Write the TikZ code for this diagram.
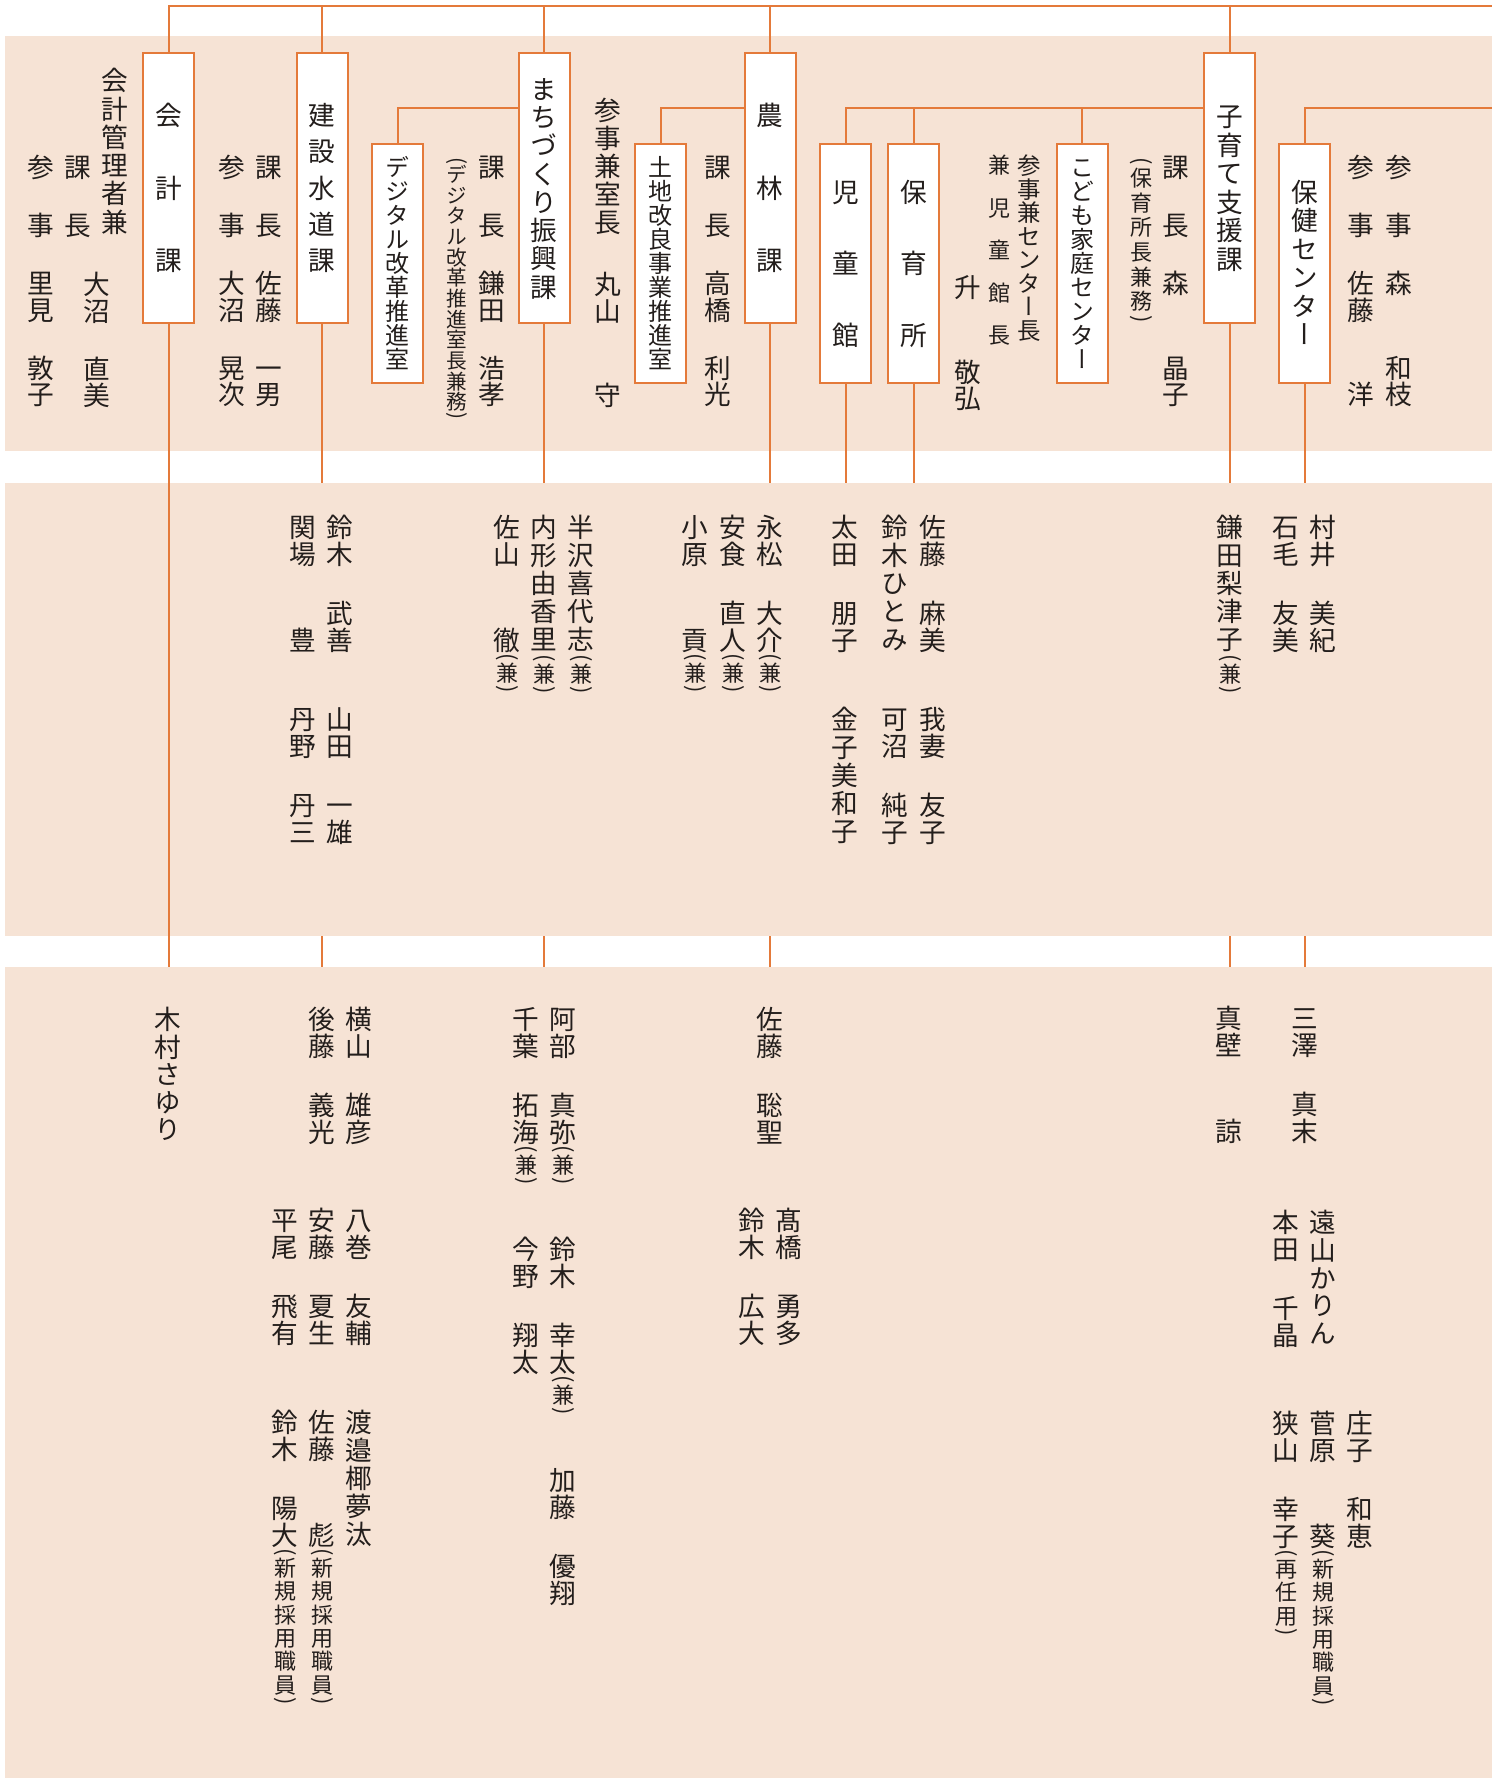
\documentclass[tikz,border=0pt]{standalone}
\usepackage{fontspec}
\usepackage{graphicx}
\usepackage{xcolor}
\usepackage{tikz}
\usetikzlibrary{calc}
\newfontfamily\jp[RawFeature=+vert]{Noto Sans CJK JP}
\definecolor{lineorange}{RGB}{228,122,58}
\definecolor{bandpeach}{RGB}{246,227,213}
\definecolor{textgray}{RGB}{35,30,28}

\newcommand\fsname{\fontsize{20pt}{20pt}\selectfont}
\newcommand\fssub{\fontsize{18pt}{18pt}\selectfont}
\newcommand\fsmid{\fontsize{17.6pt}{17.6pt}\selectfont}
\newcommand\fsnote{\fontsize{16.5pt}{16.5pt}\selectfont}
\newcommand\fsdig{\fontsize{15.5pt}{15.5pt}\selectfont}

\newcommand\vlp{\rotatebox{-90}{(}}
\newcommand\vrp{\rotatebox{-90}{)}}

\ExplSyntaxOn
\bool_new:N \l__vt_first_bool
\cs_new_protected:Npn \__vt_bare:n #1
  { \hbox_to_wd:nn { 1em } { \hss #1 \hss } }
\cs_new_protected:Npn \__vt_row:n #1
  { \hbox_to_wd:nn { 1em } { \hss \vrule height .88em depth .12em width 0pt \scan_stop: #1 \hss } }
\NewDocumentCommand \vt { O{1.22} O{0} m }
  {
    \vbox
      {
        \offinterlineskip
        \bool_set_true:N \l__vt_first_bool
        \tl_map_inline:nn {#3}
          {
            \tl_if_eq:nnTF {##1} {|}
              { \skip_vertical:n { #1 em } }
              {
                \bool_if:NF \l__vt_first_bool { \skip_vertical:n { #2 em } }
                \bool_set_false:N \l__vt_first_bool
                \tl_if_eq:nnTF {##1} {\vlp}
                  { \__vt_bare:n {##1} }
                  {
                    \tl_if_eq:nnTF {##1} {\vrp}
                      { \__vt_bare:n {##1} }
                      { \__vt_row:n {##1} }
                  }
              }
          }
      }
  }
\ExplSyntaxOff

\newcommand\ken{{\fsnote\vt[0][0.06]{\vlp 兼\vrp}}}
\newcommand\shinki{{\fsnote\vt[0][0.06]{\vlp 新規採用職員\vrp}}}
\newcommand\sainin{{\fsnote\vt[0][0.06]{\vlp 再任用\vrp}}}

\tikzset{
    unitbox/.style={
        rectangle,
        draw=lineorange,
        line width=1.5pt,
        fill=white,
        minimum width=38.25pt,
        minimum height=203pt,
        inner sep=0pt,
        font=\jp\fsname,
        text=textgray
    },
    subbox/.style={
        unitbox,
        minimum height=179.25pt,
        font=\jp\fssub
    },
    staff/.style={
        inner sep=0pt,
        anchor=north,
        font=\jp\fsname,
        text=textgray
    },
    orgline/.style={
        draw=lineorange,
        line width=1.5pt
    }
}

\begin{document}
\begin{tikzpicture}[x=0.75pt,y=-0.75pt]
    \useasboundingbox (0,0) rectangle (1492,1778);

    % Bands
    \fill[bandpeach] (5,36) rectangle (1492,451);
    \fill[bandpeach] (5,483) rectangle (1492,936);
    \fill[bandpeach] (5,967) rectangle (1492,1778);

    % Units
    \node[unitbox] (kaikei) at (168.5,188) {\vt[0][1.72]{会計課}};
    \node[unitbox] (kensetsu) at (322,188) {\vt[0][0.36]{建設水道課}};
    \node[unitbox] (machi) at (544,188) {\vt[0][0.06]{まちづくり振興課}};
    \node[unitbox] (nourin) at (770,188) {\vt[0][1.72]{農林課}};
    \node[unitbox] (kosodate) at (1229.5,188) {\vt[0][0.07]{子育て支援課}};
    \node[subbox] (digital) at (397.5,263.5) {\vt[0][0]{デジタル改革推進室}};
    \node[subbox] (tochi) at (660.5,263.5) {\vt[0][0]{土地改良事業推進室}};
    \node[subbox, font=\jp\fsname] (jidou) at (845.5,263.5) {\vt[0][1.68]{児童館}};
    \node[subbox, font=\jp\fsname] (hoiku) at (913.5,263.5) {\vt[0][1.68]{保育所}};
    \node[subbox] (kodomo) at (1082,263.5) {\vt[0][0]{こども家庭センター}};
    \node[subbox, font=\jp\fsname] (hoken) at (1304.5,263.5) {\vt[0][0.07]{保健センター}};

    % Connectors
    \coordinate (topR) at (1492,6);
    \coordinate (hokenR) at (1492,108);
    \coordinate (bandB) at (0,483);
    \coordinate (gapC) at (0,936);
    \coordinate (bandC) at (0,967);
    \coordinate (machiBr) at ($(machi.north west)+(0,56)$);
    \coordinate (nourinBr) at ($(nourin.north west)+(0,56)$);
    \coordinate (kosodateBr) at ($(kosodate.north west)+(0,56)$);
    \draw[orgline] (kaikei.north) -- (kaikei.north |- topR) -- (topR);
    \foreach \u in {kensetsu,machi,nourin,kosodate}
        \draw[orgline] (\u.north) -- (\u.north |- topR);
    \draw[orgline] (digital.north) |- (machiBr);
    \draw[orgline] (tochi.north) |- (nourinBr);
    \draw[orgline] (jidou.north) |- (kosodateBr);
    \draw[orgline] (hoiku.north) -- (hoiku.north |- kosodateBr);
    \draw[orgline] (kodomo.north) -- (kodomo.north |- kosodateBr);
    \draw[orgline] (hoken.north) |- (hokenR);
    \foreach \u in {kensetsu,machi,nourin,jidou,hoiku,kosodate,hoken}
        \draw[orgline] (\u.south) -- (\u.south |- bandB);
    \foreach \u in {kensetsu,machi,nourin,kosodate,hoken}
        \draw[orgline] (\u.south |- gapC) -- (\u.south |- bandC);
    \draw[orgline] (kaikei.south) -- (kaikei.south |- bandC);

    % Band 1
    \node[staff] (satomi) at (41,154) {\vt[1.17]{参|事|里見|敦子}};
    \node[staff] (kacho1) at (78,154) {\vt[1.17]{課|長}};
    \node[staff] (kaikeikanri) at (115,67) {\vt[0][0.06]{会計管理者兼}};
    \node[staff] (oonuma1) at (97,271) {\vt[1.17]{大沼|直美}};
    \node[staff] (oonuma2) at (232,154) {\vt[1.17]{参|事|大沼|晃次}};
    \node[staff] (sato1) at (269,154) {\vt[1.17]{課|長|佐藤|一男}};
    \node[staff, font=\jp\fsdig] (digkenmu) at (457,157) {\vt[0][0]{\vlp デジタル改革推進室長兼務\vrp}};
    \node[staff] (kamata1) at (492,154) {\vt[1.17]{課|長|鎌田|浩孝}};
    \node[staff] (shitsucho) at (608,97) {\vt[0][0.05]{参事兼室長}};
    \node[staff] (maruyama) at (608,271) {\vt[1.17]{丸山|~守}};
    \node[staff] (takahashi1) at (718,154) {\vt[1.17]{課|長|高橋|利光}};
    \node[staff] (masu) at (968,274) {\vt[1.17]{升~|敬弘}};
    \node[staff, font=\jp\fsnote] (kankancho) at (999,154) {\vt[0][0.93]{兼児童館長}};
    \node[staff, font=\jp\fsmid] (centercho) at (1029,154) {\vt[0][0]{参事兼センター長}};
    \node[staff, font=\jp\fsnote] (hoikukenmu) at (1141,157) {\vt[0][0.12]{\vlp 保育所長兼務\vrp}};
    \node[staff] (mori1) at (1176,154) {\vt[1.17]{課|長|森~|晶子}};
    \node[staff] (sato2) at (1361,154) {\vt[1.17]{参|事|佐藤|~洋}};
    \node[staff] (mori2) at (1399,154) {\vt[1.17]{参|事|森~|和枝}};

    % Band 2
    \node[staff] (sekiba) at (303,514) {\vt{関場|~豊}};
    \node[staff] (suzuki1) at (340,514) {\vt{鈴木|武善}};
    \node[staff] (tanno) at (303,706) {\vt{丹野|丹三}};
    \node[staff] (yamada) at (340,706) {\vt{山田|一雄}};
    \node[staff] (sayama1) at (507,514) {\vt{佐山|~徹\ken}};
    \node[staff] (uchigata) at (544,514) {\vt[0][0.05]{内形由香里\ken}};
    \node[staff] (hanzawa) at (581,514) {\vt[0][0.05]{半沢喜代志\ken}};
    \node[staff] (ohara) at (695,514) {\vt{小原|~貢\ken}};
    \node[staff] (ajiki) at (733,514) {\vt{安食|直人\ken}};
    \node[staff] (nagamatsu) at (770,514) {\vt{永松|大介\ken}};
    \node[staff] (oota) at (845,514) {\vt{太田|朋子}};
    \node[staff] (kaneko) at (845,706) {\vt[0][0.05]{金子美和子}};
    \node[staff] (suzuki2) at (895,514) {\vt[0][0.05]{鈴木ひとみ}};
    \node[staff] (kanuma) at (895,706) {\vt{可沼|純子}};
    \node[staff] (sato3) at (933,514) {\vt{佐藤|麻美}};
    \node[staff] (wagatsuma) at (933,706) {\vt{我妻|友子}};
    \node[staff] (kamata2) at (1230,514) {\vt[0][0.05]{鎌田梨津子\ken}};
    \node[staff] (ishige) at (1286,514) {\vt{石毛|友美}};
    \node[staff] (murai) at (1323,514) {\vt{村井|美紀}};

    % Band 3
    \node[staff] (kimura) at (168,1006) {\vt[0][0.03]{木村さゆり}};
    \node[staff] (goto) at (322,1006) {\vt{後藤|義光}};
    \node[staff] (yokoyama) at (359,1006) {\vt{横山|雄彦}};
    \node[staff] (hirao) at (285,1207) {\vt{平尾|飛有}};
    \node[staff] (ando) at (322,1207) {\vt{安藤|夏生}};
    \node[staff] (yamaki) at (359,1207) {\vt{八巻|友輔}};
    \node[staff] (suzuki3) at (285,1409) {\vt{鈴木|陽大\shinki}};
    \node[staff] (sato4) at (322,1409) {\vt{佐藤|~彪\shinki}};
    \node[staff] (watanabe) at (359,1409) {\vt[0][0.05]{渡邉椰夢汰}};
    \node[staff] (chiba) at (526,1006) {\vt{千葉|拓海\ken}};
    \node[staff] (abe) at (563,1006) {\vt{阿部|真弥\ken}};
    \node[staff] (konno) at (526,1236) {\vt{今野|翔太}};
    \node[staff] (suzuki4) at (563,1236) {\vt{鈴木|幸太\ken}};
    \node[staff] (kato) at (563,1467) {\vt{加藤|優翔}};
    \node[staff] (sato5) at (770,1006) {\vt{佐藤|聡聖}};
    \node[staff] (suzuki5) at (752,1207) {\vt{鈴木|広大}};
    \node[staff] (takahashi2) at (789,1207) {\vt{髙橋|勇多}};
    \node[staff] (makabe) at (1229,1005) {\vt{真壁|~諒}};
    \node[staff] (misawa) at (1305,1005) {\vt{三澤|真末}};
    \node[staff] (honda) at (1286,1209) {\vt{本田|千晶}};
    \node[staff] (tooyama) at (1323,1209) {\vt[0][0.04]{遠山かりん}};
    \node[staff] (sayama2) at (1286,1410) {\vt{狭山|幸子\sainin}};
    \node[staff] (sugawara) at (1323,1410) {\vt{菅原|~葵\shinki}};
    \node[staff] (shoji) at (1360,1410) {\vt{庄子|和恵}};
\end{tikzpicture}
\end{document}
